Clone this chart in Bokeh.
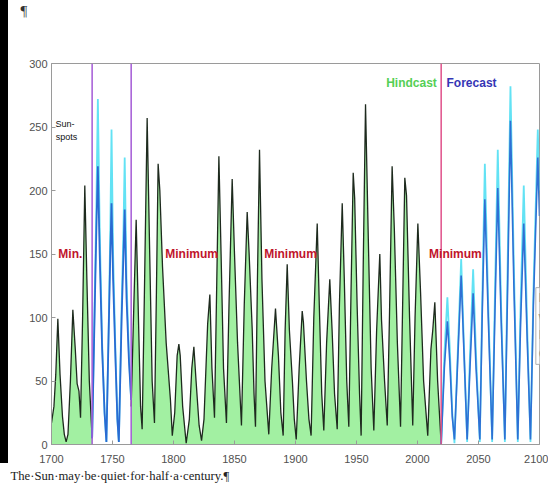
from bokeh.plotting import figure
from bokeh.models import Label, Span, FixedTicker, Range1d, Title, Spacer
from bokeh.layouts import row, column
from bokeh.embed import file_html
from bokeh.resources import INLINE

# ---------------- data ----------------
x_ticks = [1700, 1750, 1800, 1850, 1900, 1950, 2000, 2050, 2100]
y_ticks = [0, 50, 100, 150, 200, 250, 300]

# hindcast part 1 (1700 - 1733)
hind1_years = [1700, 1702, 1703.5, 1705.2, 1707, 1709, 1710.5, 1712, 1713.5, 1715.5, 1717.5,
               1719.5, 1721, 1722.5, 1723.8, 1725.5, 1727.3, 1729, 1731, 1733.3]
hind1_spots = [17, 30, 55, 99, 55, 22, 8, 2, 8, 50, 106,
               75, 48, 42, 21, 100, 204, 130, 50, 5]

# alternative reconstruction 1733 - 1765
alt_years = [1733.3, 1735.5, 1736.8, 1738, 1739.5, 1741.5, 1743.5, 1745, 1747, 1748.2, 1749.2,
             1750.5, 1752.5, 1754, 1755.2, 1757.5, 1759, 1760, 1761.5, 1763.5, 1765.3]
alt_cyan = [5, 120, 190, 272, 170, 80, 25, 2, 100, 170, 248,
            150, 70, 20, 2, 110, 170, 226, 130, 70, 35]
alt_blue = [5, 110, 170, 219, 150, 75, 25, 2, 95, 150, 190,
            130, 65, 20, 2, 100, 150, 185, 115, 65, 35]

# hindcast part 2 (1765 - 2019)
hind2_years = [1765.3, 1767.5, 1769.4, 1771.5, 1773, 1774.3, 1776, 1778.4, 1780.5, 1782.5, 1784.4,
               1786, 1787.4, 1788.8, 1791, 1794, 1797.5, 1799, 1801, 1803, 1804.4, 1805.5,
               1807.5, 1810.4, 1813, 1815, 1816.7, 1818.5, 1821, 1823, 1825, 1828, 1829.8,
               1831.5, 1833.6, 1835.5, 1837.2, 1839, 1841, 1843.4, 1845.5, 1848.1, 1850,
               1852.5, 1855.7, 1858, 1860.4, 1862, 1864.5, 1866, 1867.2, 1868.8, 1870.5,
               1872.5, 1875, 1878.1, 1880.5, 1883.6, 1886, 1888, 1889.9, 1891.5, 1893.2,
               1895, 1897.5, 1899, 1900.6, 1903, 1905.5, 1906.5, 1909, 1911, 1912.8, 1915,
               1917.8, 1919.5, 1921.5, 1923.2, 1925.5, 1928.1, 1930, 1932, 1934.2, 1936,
               1938.3, 1940, 1942, 1943.7, 1945.5, 1947.3, 1948.5, 1950.5, 1952.5, 1953.8,
               1955.5, 1957.4, 1959.5, 1962, 1964.2, 1966.5, 1969.1, 1970.5, 1973, 1975.2,
               1977, 1979.2, 1981, 1983.5, 1986.1, 1988, 1989.6, 1991, 1993.5, 1996.1, 1998,
               2000.3, 2002.5, 2005, 2008.4, 2011, 2012.5, 2014.2, 2016.5, 2019.4]
hind2_spots = [30, 110, 177, 90, 30, 12, 110, 257, 150, 50, 17,
               120, 221, 200, 140, 80, 35, 7, 25, 70, 79, 70,
               30, 1, 20, 60, 77, 50, 15, 3, 20, 95, 118,
               60, 21, 130, 227, 150, 60, 17, 110, 209, 150,
               80, 15, 110, 183, 150, 91, 40, 14, 130, 232,
               130, 50, 8, 60, 107, 70, 25, 7, 90, 142,
               90, 49, 20, 4, 60, 105, 96, 50, 20, 7, 100,
               174, 110, 40, 11, 80, 130, 90, 40, 12, 110,
               190, 130, 50, 14, 120, 214, 194, 110, 40, 7,
               140, 268, 170, 60, 11, 90, 150, 98, 50, 15,
               100, 219, 170, 80, 14, 120, 210, 196, 100, 15, 100,
               174, 120, 50, 7, 75, 90, 112, 50, 0]

# forecast 2019 - 2100
fc_years = [2019.4, 2022, 2024.5, 2026.5, 2028.5, 2030.3, 2032.5, 2035.8, 2038, 2040.7, 2043,
            2045.6, 2048, 2051.1, 2053, 2055.2, 2058, 2061.2, 2063.5, 2065.8, 2068.5, 2071.6,
            2074, 2076.2, 2079, 2082.2, 2084.5, 2087.1, 2090, 2092.6, 2095, 2098.6, 2100]
fc_cyan = [0, 70, 116, 75, 25, 1, 60, 146, 80, 2, 70,
           138, 70, 2, 110, 221, 110, 2, 120, 232, 110, 2,
           150, 282, 140, 2, 110, 204, 90, 2, 120, 248, 200]
fc_blue = [0, 60, 97, 65, 22, 4, 55, 133, 75, 4, 60,
           119, 60, 4, 100, 193, 100, 4, 105, 202, 100, 4,
           130, 255, 125, 4, 95, 174, 80, 4, 110, 226, 180]

regime_bounds = [1733.3, 1765.3]
forecast_start = 2019.4

# ---------------- top strip (document paragraph mark) ----------------
top = figure(width=540, height=30, min_border=0, x_range=Range1d(0, 1), y_range=Range1d(0, 1),
             output_backend="svg", toolbar_location=None, tools="")
top.axis.visible = False
top.grid.visible = False
top.outline_line_color = None
top.add_layout(Title(text="\u00b6", align="left", offset=-31, standoff=0,
                     text_font="Liberation Serif", text_font_size="15px",
                     text_font_style="normal", text_color="#333333"), "above")

# ---------------- figure ----------------
p = figure(frame_width=488, frame_height=381,
           min_border_left=43, min_border_right=9, min_border_top=33, min_border_bottom=51,
           x_range=Range1d(1700, 2100), y_range=Range1d(0, 300),
           output_backend="svg", toolbar_location=None, tools="")
p.grid.visible = False
p.outline_line_color = "#9a9a9a"
p.outline_line_width = 1
p.background_fill_color = "white"
p.border_fill_color = "white"

for ax in (p.xaxis[0], p.yaxis[0]):
    ax.major_label_text_font = "Liberation Sans"
    ax.major_label_text_font_size = "11px"
    ax.major_label_text_color = "#505050"
    ax.axis_line_color = "#9a9a9a"
    ax.major_tick_line_color = "#9a9a9a"
    ax.major_tick_in = 4
    ax.major_tick_out = 0
    ax.minor_tick_line_color = None
p.xaxis.ticker = FixedTicker(ticks=x_ticks)
p.yaxis.ticker = FixedTicker(ticks=y_ticks)
p.xaxis.major_label_standoff = 10
p.yaxis.major_label_standoff = 4

green_fill = "#a2f0a2"
p.varea(x=hind1_years, y1=0, y2=hind1_spots, fill_color=green_fill)
p.varea(x=hind2_years, y1=0, y2=hind2_spots, fill_color=green_fill)
p.line(hind1_years, hind1_spots, line_color="#1e2a1e", line_width=1.3)
p.line(hind2_years, hind2_spots, line_color="#1e2a1e", line_width=1.3)

p.line(alt_years, alt_cyan, line_color="#62e2f4", line_width=1.8)
p.line(alt_years, alt_blue, line_color="#2a6ad2", line_width=1.8)
p.line(fc_years, fc_cyan, line_color="#62e2f4", line_width=1.8)
p.line(fc_years, fc_blue, line_color="#2f70d4", line_width=1.6)

for b in regime_bounds:
    p.add_layout(Span(location=b, dimension="height", line_color="#a45ad6", line_width=1.5))
p.add_layout(Span(location=forecast_start, dimension="height", line_color="#e0508a", line_width=1.5))

red = "#c0142c"
def lab(x, y, text, color, size="12px", align="left", bold=True, font="Liberation Sans", baseline="middle"):
    p.add_layout(Label(x=x, y=y, text=text, text_color=color, text_font_size=size,
                       text_font=font, text_font_style="bold" if bold else "normal",
                       text_align=align, text_baseline=baseline))

lab(1705.6, 150, "Min.", red)
lab(1814.8, 150, "Minimum", red, align="center")
lab(1895.9, 150, "Minimum", red, align="center")
lab(2031.1, 150, "Minimum", red, align="center")
lab(1995.1, 284.6, "Hindcast", "#55cf55", align="center")
lab(2044.3, 284.6, "Forecast", "#3535b5", align="center")
lab(1703.3, 252.5, "Sun-", "#111111", size="9px", bold=False)
lab(1703.5, 242.0, "spots", "#111111", size="9px", bold=False)

# partially visible text box at the right edge
p.add_layout(Label(x=2097.0, y=123.5, text="ht\nw\nM\nCl", text_color="#444444",
                   text_font="Liberation Sans", text_font_size="12px", text_align="left",
                   text_baseline="top", text_line_height=1.35,
                   background_fill_color="white", border_line_color="#b0b0b0",
                   padding=3))

# caption below the chart
p.add_layout(Title(text="The\u00b7Sun\u00b7may\u00b7be\u00b7quiet\u00b7for\u00b7half\u00b7a\u00b7century.\u00b6",
                   align="left", offset=-41, standoff=3,
                   text_font="Liberation Serif", text_font_size="12.7px",
                   text_font_style="normal", text_color="#222222"), "below")

band = Spacer(width=8, height=463, styles={"background-color": "black"})
layout = row(band, column(top, p, spacing=0), spacing=0)

open("out.html", "w").write(file_html(layout, INLINE))
